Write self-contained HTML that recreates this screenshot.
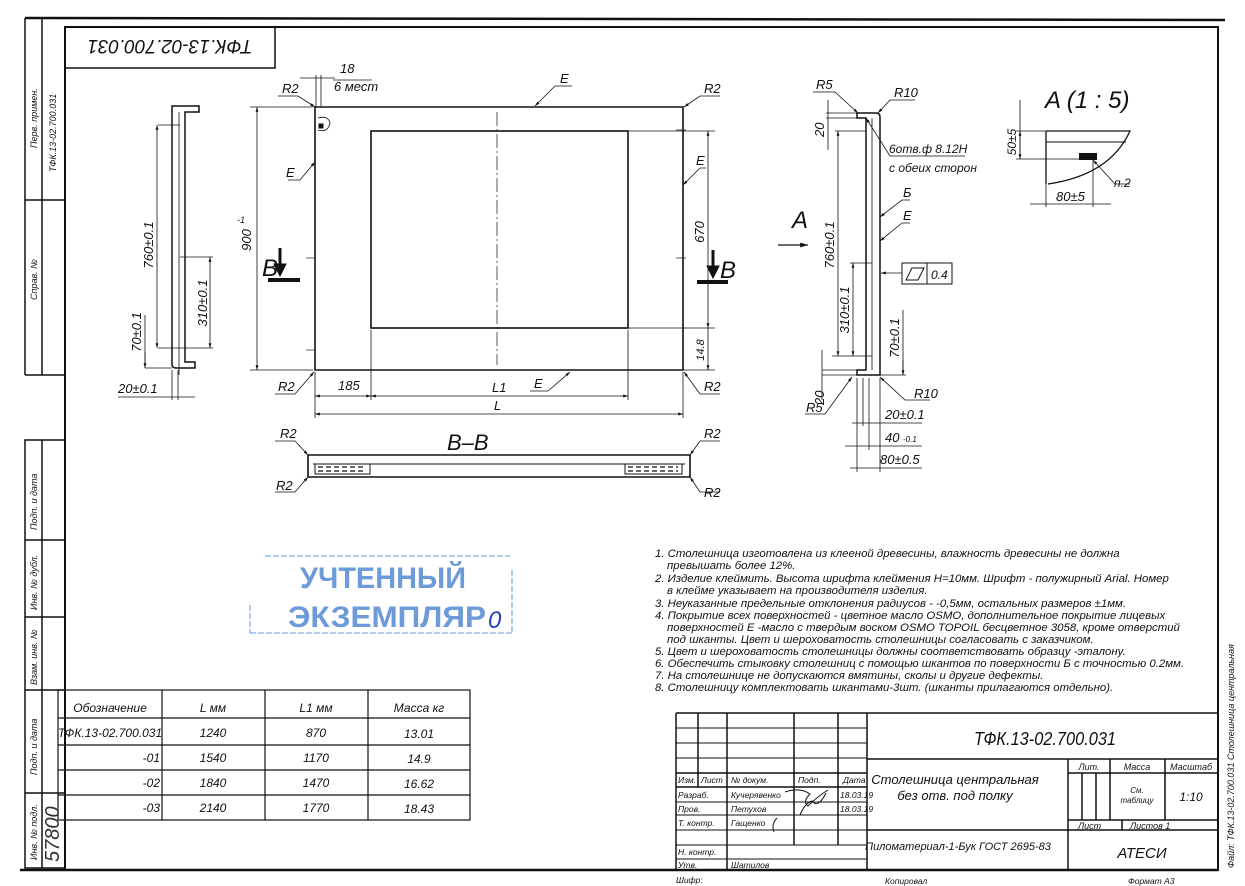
<!DOCTYPE html>
<html><head><meta charset="utf-8"><style>
html,body{margin:0;padding:0;background:#fff;}
svg{display:block;}
text{font-family:"Liberation Sans",sans-serif;font-style:italic;fill:#111;}
.n{font-style:normal;}
</style></head><body>
<svg width="1245" height="886" viewBox="0 0 1245 886" xmlns="http://www.w3.org/2000/svg">
<defs>
<marker id="a" viewBox="0 0 10 10" refX="10" refY="5" markerWidth="8" markerHeight="6" orient="auto-start-reverse"><path d="M0,2 L10,5 L0,8 z" fill="#111"/></marker>
</defs>
<g stroke="#111" fill="none">
<line x1="25" y1="18" x2="1225" y2="20" stroke-width="2.5"/>
<rect x="65" y="27" width="1153" height="843" stroke-width="2"/>
<line x1="25" y1="18" x2="25" y2="375" stroke-width="1.5"/>
<line x1="42" y1="18" x2="42" y2="375" stroke-width="1.5"/>
<line x1="25" y1="375" x2="65" y2="375" stroke-width="1.5"/>
<line x1="25" y1="200" x2="65" y2="200" stroke-width="1.5"/>
<rect x="25" y="440" width="40" height="428" stroke-width="1.5"/>
<line x1="42" y1="440" x2="42" y2="868" stroke-width="1.5"/>
<line x1="25" y1="540" x2="65" y2="540" stroke-width="1.5"/>
<line x1="25" y1="617" x2="65" y2="617" stroke-width="1.5"/>
<line x1="25" y1="690" x2="65" y2="690" stroke-width="1.5"/>
<line x1="25" y1="793" x2="65" y2="793" stroke-width="1.5"/>
<line x1="20" y1="870" x2="1218" y2="870" stroke-width="2.5"/>
<rect x="65" y="27" width="210" height="41" stroke-width="1.5"/>

<path d="M172,106 L199,106 L199,112 L185,112 L185,362 L195,362 L195,368 L176,368 Q172,368 172,364 Z" stroke-width="1.5"/>
<line x1="179" y1="112" x2="179" y2="375" stroke-width="0.8"/>
<line x1="158" y1="125" x2="180" y2="125" stroke-width="0.8"/>
<line x1="158" y1="348" x2="180" y2="348" stroke-width="0.8"/>
<line x1="145" y1="368" x2="172" y2="368" stroke-width="0.8"/>
<line x1="180" y1="257" x2="213" y2="257" stroke-width="0.8"/>
<line x1="180" y1="348" x2="213" y2="348" stroke-width="0.8"/>
<line x1="157" y1="125" x2="157" y2="348" stroke-width="0.8" marker-start="url(#a)" marker-end="url(#a)"/>
<line x1="210" y1="257" x2="210" y2="348" stroke-width="0.8" marker-start="url(#a)" marker-end="url(#a)"/>
<line x1="145" y1="315" x2="145" y2="368" stroke-width="0.8"/>
<line x1="145" y1="352" x2="145" y2="368" stroke-width="0.8" marker-end="url(#a)"/>
<line x1="118" y1="397" x2="195" y2="397" stroke-width="0.8"/>
<line x1="172" y1="370" x2="172" y2="400" stroke-width="0.8"/>
<line x1="178" y1="370" x2="178" y2="400" stroke-width="0.8"/>

<path d="M315,107 L683,107 L683,370 L315,370 Z" stroke-width="1.6"/>
<rect x="371" y="131" width="257" height="197" stroke-width="1.6"/>
<line x1="497" y1="112" x2="497" y2="365" stroke-width="0.7" stroke-dasharray="14,3,2,3"/>
<line x1="250" y1="107" x2="313" y2="107" stroke-width="0.8"/>
<line x1="250" y1="370" x2="313" y2="370" stroke-width="0.8"/>
<line x1="257" y1="107" x2="257" y2="370" stroke-width="0.8" marker-start="url(#a)" marker-end="url(#a)"/>
<line x1="628" y1="131" x2="715" y2="131" stroke-width="0.8"/>
<line x1="628" y1="328" x2="715" y2="328" stroke-width="0.8"/>
<line x1="708" y1="131" x2="708" y2="328" stroke-width="0.8" marker-start="url(#a)" marker-end="url(#a)"/>
<line x1="708" y1="328" x2="708" y2="370" stroke-width="0.8" marker-end="url(#a)"/>
<line x1="683" y1="370" x2="715" y2="370" stroke-width="0.8"/>
<line x1="315" y1="372" x2="315" y2="418" stroke-width="0.8"/>
<line x1="371" y1="330" x2="371" y2="400" stroke-width="0.8"/>
<line x1="628" y1="330" x2="628" y2="400" stroke-width="0.8"/>
<line x1="683" y1="372" x2="683" y2="418" stroke-width="0.8"/>
<line x1="315" y1="396" x2="371" y2="396" stroke-width="0.8" marker-start="url(#a)" marker-end="url(#a)"/>
<line x1="371" y1="396" x2="628" y2="396" stroke-width="0.8" marker-start="url(#a)" marker-end="url(#a)"/>
<line x1="315" y1="414" x2="683" y2="414" stroke-width="0.8" marker-start="url(#a)" marker-end="url(#a)"/>
<line x1="300" y1="78" x2="335" y2="78" stroke-width="0.8"/>
<line x1="316" y1="75" x2="316" y2="107" stroke-width="0.8"/>
<line x1="321" y1="75" x2="321" y2="107" stroke-width="0.8"/>
<line x1="333" y1="80" x2="372" y2="80" stroke-width="0.8"/>
<path d="M318,118 q10,-3 12,5 q-2,10 -12,7" stroke-width="0.8"/>
<rect x="319" y="124" width="4" height="4" fill="#111"/>
<polyline points="278,96 298,96 315,107" stroke-width="0.8" marker-end="url(#a)"/>
<polyline points="720,96 700,96 684,107" stroke-width="0.8" marker-end="url(#a)"/>
<polyline points="275,394 295,394 314,372" stroke-width="0.8" marker-end="url(#a)"/>
<polyline points="720,394 700,394 684,372" stroke-width="0.8" marker-end="url(#a)"/>
<polyline points="572,86 555,86 535,106" stroke-width="0.8" marker-end="url(#a)"/>
<polyline points="288,180 300,180 315,162" stroke-width="0.8" marker-end="url(#a)"/>
<polyline points="706,168 700,168 683,185" stroke-width="0.8" marker-end="url(#a)"/>
<polyline points="530,391 548,391 570,372" stroke-width="0.8" marker-end="url(#a)"/>
<line x1="280" y1="248" x2="280" y2="268" stroke-width="3"/>
<path d="M274,264 L286,264 L280,276 Z" fill="#111"/>
<line x1="268" y1="280" x2="300" y2="280" stroke-width="4"/>
<line x1="713" y1="250" x2="713" y2="270" stroke-width="3"/>
<path d="M707,266 L719,266 L713,278 Z" fill="#111"/>
<line x1="697" y1="282" x2="728" y2="282" stroke-width="4"/>
<line x1="306" y1="258" x2="314" y2="258" stroke-width="0.7"/>
<line x1="306" y1="350" x2="314" y2="350" stroke-width="0.7"/>
<line x1="676" y1="130" x2="686" y2="130" stroke-width="0.7"/>
<line x1="676" y1="258" x2="686" y2="258" stroke-width="0.7"/>

<line x1="308" y1="455" x2="690" y2="455" stroke-width="1.6"/>
<line x1="308" y1="477" x2="690" y2="477" stroke-width="1.6"/>
<line x1="308" y1="455" x2="308" y2="477" stroke-width="1.6"/>
<line x1="690" y1="455" x2="690" y2="477" stroke-width="1.6"/>
<line x1="313" y1="464" x2="685" y2="464" stroke-width="1"/>
<rect x="315" y="464" width="55" height="10" stroke-width="1"/>
<rect x="625" y="464" width="57" height="10" stroke-width="1"/>
<line x1="318" y1="467" x2="366" y2="467" stroke-width="1.2" stroke-dasharray="5,3"/>
<line x1="318" y1="471" x2="366" y2="471" stroke-width="1.2" stroke-dasharray="5,3"/>
<line x1="628" y1="467" x2="678" y2="467" stroke-width="1.2" stroke-dasharray="5,3"/>
<line x1="628" y1="471" x2="678" y2="471" stroke-width="1.2" stroke-dasharray="5,3"/>
<polyline points="275,441 295,441 308,455" stroke-width="0.8" marker-end="url(#a)"/>
<polyline points="720,441 700,441 690,455" stroke-width="0.8" marker-end="url(#a)"/>
<polyline points="275,492 295,492 308,477" stroke-width="0.8" marker-end="url(#a)"/>
<polyline points="720,492 700,492 690,477" stroke-width="0.8" marker-end="url(#a)"/>

<path d="M857,113 L876,113 Q880,113 880,117 L880,375 L857,375 L857,370 L866,370 L866,118 L857,118 Z" stroke-width="1.5"/>
<line x1="872" y1="118" x2="872" y2="370" stroke-width="0.8"/>
<line x1="826" y1="113" x2="857" y2="113" stroke-width="0.8"/>
<line x1="826" y1="118" x2="857" y2="118" stroke-width="0.8"/>
<line x1="835" y1="131" x2="866" y2="131" stroke-width="0.8"/>
<line x1="832" y1="356" x2="872" y2="356" stroke-width="0.8"/>
<line x1="850" y1="263" x2="872" y2="263" stroke-width="0.8"/>
<line x1="822" y1="370" x2="857" y2="370" stroke-width="0.8"/>
<line x1="822" y1="375" x2="906" y2="375" stroke-width="0.8"/>
<line x1="838" y1="131" x2="838" y2="356" stroke-width="0.8" marker-start="url(#a)" marker-end="url(#a)"/>
<line x1="853" y1="263" x2="853" y2="356" stroke-width="0.8" marker-start="url(#a)" marker-end="url(#a)"/>
<line x1="903" y1="310" x2="903" y2="375" stroke-width="0.8"/>
<line x1="903" y1="360" x2="903" y2="375" stroke-width="0.8" marker-end="url(#a)"/>
<line x1="828" y1="100" x2="828" y2="150" stroke-width="0.8"/>
<line x1="822" y1="350" x2="822" y2="400" stroke-width="0.8"/>
<line x1="857" y1="378" x2="857" y2="472" stroke-width="0.8"/>
<line x1="863" y1="378" x2="863" y2="426" stroke-width="0.8"/>
<line x1="869" y1="378" x2="869" y2="450" stroke-width="0.8"/>
<line x1="880" y1="378" x2="880" y2="472" stroke-width="0.8"/>
<line x1="852" y1="423" x2="922" y2="423" stroke-width="0.8"/>
<line x1="845" y1="446" x2="922" y2="446" stroke-width="0.8"/>
<line x1="850" y1="468" x2="922" y2="468" stroke-width="0.8"/>
<line x1="778" y1="245" x2="808" y2="245" stroke-width="1.3" marker-end="url(#a)"/>
<polyline points="813,92 835,92 858,113" stroke-width="0.8" marker-end="url(#a)"/>
<polyline points="915,100 890,100 878,113" stroke-width="0.8" marker-end="url(#a)"/>
<polyline points="965,156 890,156 866,118" stroke-width="0.8" marker-end="url(#a)"/>
<polyline points="910,200 902,200 880,217" stroke-width="0.8" marker-end="url(#a)"/>
<polyline points="910,223 902,223 880,241" stroke-width="0.8" marker-end="url(#a)"/>
<polyline points="902,273 881,273" stroke-width="0.8" marker-end="url(#a)"/>
<polyline points="930,400 905,400 880,377" stroke-width="0.8" marker-end="url(#a)"/>
<polyline points="805,414 825,414 852,377" stroke-width="0.8" marker-end="url(#a)"/>
<rect x="902" y="263" width="50" height="21" stroke-width="1"/>
<line x1="927" y1="263" x2="927" y2="284" stroke-width="1"/>
<path d="M906,280 L912,268 L924,268 L918,280 Z" stroke-width="1"/>

<path d="M1046,131 L1130,131 Q1110,175 1048,184" stroke-width="1.3"/>
<line x1="1046" y1="131" x2="1046" y2="184" stroke-width="1.3"/>
<line x1="1046" y1="142" x2="1126" y2="142" stroke-width="1"/>
<line x1="1016" y1="131" x2="1046" y2="131" stroke-width="0.8"/>
<line x1="1016" y1="159" x2="1080" y2="159" stroke-width="0.8"/>
<line x1="1020" y1="100" x2="1020" y2="159" stroke-width="0.8"/>
<line x1="1020" y1="131" x2="1020" y2="159" stroke-width="0.8" marker-start="url(#a)" marker-end="url(#a)"/>
<line x1="1093" y1="160" x2="1093" y2="207" stroke-width="0.8"/>
<line x1="1046" y1="184" x2="1046" y2="207" stroke-width="0.8"/>
<line x1="1030" y1="204" x2="1111" y2="204" stroke-width="0.8"/>
<polyline points="1130,184 1115,184 1093,160" stroke-width="0.8" marker-end="url(#a)"/>

<g stroke="#6d9ad8" stroke-width="1" stroke-dasharray="6,2">
<line x1="265" y1="556" x2="510" y2="556"/>
<line x1="250" y1="633" x2="512" y2="633"/>
<line x1="250" y1="605" x2="250" y2="633"/>
<line x1="512" y1="570" x2="512" y2="633"/>
</g>

<g stroke-width="1.2">
<rect x="58" y="690" width="412" height="130"/>
<line x1="58" y1="718" x2="470" y2="718"/>
<line x1="58" y1="745" x2="470" y2="745"/>
<line x1="58" y1="770" x2="470" y2="770"/>
<line x1="58" y1="795" x2="470" y2="795"/>
<line x1="162" y1="690" x2="162" y2="820"/>
<line x1="265" y1="690" x2="265" y2="820"/>
<line x1="368" y1="690" x2="368" y2="820"/>
</g>

<g stroke-width="1.5">
<line x1="676" y1="713" x2="1218" y2="713"/>
<line x1="676" y1="713" x2="676" y2="870"/>
<line x1="867" y1="713" x2="867" y2="870"/>
<line x1="867" y1="759" x2="1218" y2="759"/>
<line x1="867" y1="830" x2="1218" y2="830"/>
<line x1="1068" y1="759" x2="1068" y2="870"/>
<line x1="1068" y1="773" x2="1218" y2="773"/>
<line x1="1068" y1="820" x2="1218" y2="820"/>
<line x1="1110" y1="759" x2="1110" y2="820"/>
<line x1="1165" y1="759" x2="1165" y2="820"/>
<line x1="1122" y1="820" x2="1122" y2="830"/>
<line x1="1082" y1="773" x2="1082" y2="820"/>
<line x1="1096" y1="773" x2="1096" y2="820"/>
<line x1="727" y1="713" x2="727" y2="870"/>
<line x1="794" y1="713" x2="794" y2="845"/>
<line x1="838" y1="713" x2="838" y2="845"/>
<line x1="698" y1="713" x2="698" y2="787"/>
</g>
<g stroke-width="1">
<line x1="676" y1="728" x2="867" y2="728"/>
<line x1="676" y1="743" x2="867" y2="743"/>
<line x1="676" y1="758" x2="867" y2="758"/>
<line x1="676" y1="773" x2="867" y2="773" stroke-width="1.5"/>
<line x1="676" y1="787" x2="867" y2="787" stroke-width="1.5"/>
<line x1="676" y1="802" x2="867" y2="802"/>
<line x1="676" y1="815" x2="867" y2="815"/>
<line x1="676" y1="830" x2="867" y2="830"/>
<line x1="676" y1="845" x2="867" y2="845"/>
<line x1="676" y1="859" x2="867" y2="859"/>
</g>
<path d="M785,792 q15,-5 25,2 q-8,8 -2,12 q10,-10 20,-16 M800,815 q5,-12 12,-14 q6,8 14,-8 M777,818 q-6,6 -3,14" stroke-width="1"/>
</g>

<g fill="#111">
<text transform="translate(37,148) rotate(-90)" font-size="9">Перв. примен.</text>
<text transform="translate(56,172) rotate(-90)" font-size="9">ТФК.13-02.700.031</text>
<text transform="translate(37,300) rotate(-90)" font-size="9">Справ. №</text>
<text transform="translate(37,530) rotate(-90)" font-size="9">Подп. и дата</text>
<text transform="translate(37,610) rotate(-90)" font-size="9">Инв. № дубл.</text>
<text transform="translate(37,685) rotate(-90)" font-size="9">Взам. инв. №</text>
<text transform="translate(37,775) rotate(-90)" font-size="9">Подп. и дата</text>
<text transform="translate(37,860) rotate(-90)" font-size="9">Инв. № подл.</text>
<text transform="translate(59,862) rotate(-90)" font-size="20" style="fill:#333">57800</text>
<text transform="translate(170,40) rotate(180)" font-size="19" text-anchor="middle">ТФК.13-02.700.031</text>

<text transform="translate(153,245) rotate(-90)" font-size="13" text-anchor="middle">760±0.1</text>
<text transform="translate(207,303) rotate(-90)" font-size="13" text-anchor="middle">310±0.1</text>
<text transform="translate(141,332) rotate(-90)" font-size="13" text-anchor="middle">70±0.1</text>
<text x="118" y="393" font-size="13">20±0.1</text>

<text transform="translate(251,240) rotate(-90)" font-size="13" text-anchor="middle">900</text>
<text x="237" y="223" font-size="9">-1</text>
<text x="262" y="276" font-size="24">B</text>
<text x="720" y="278" font-size="24">B</text>
<text transform="translate(704,232) rotate(-90)" font-size="13" text-anchor="middle">670</text>
<text transform="translate(704,350) rotate(-90)" font-size="11" text-anchor="middle">14.8</text>
<text x="338" y="390" font-size="13">185</text>
<text x="492" y="392" font-size="13">L1</text>
<text x="494" y="410" font-size="13">L</text>
<text x="340" y="73" font-size="13">18</text>
<text x="334" y="91" font-size="13">6 мест</text>
<text x="282" y="93" font-size="13">R2</text>
<text x="704" y="93" font-size="13">R2</text>
<text x="278" y="391" font-size="13">R2</text>
<text x="704" y="391" font-size="13">R2</text>
<text x="560" y="83" font-size="13">E</text>
<text x="286" y="177" font-size="13">E</text>
<text x="696" y="165" font-size="13">E</text>
<text x="534" y="388" font-size="13">E</text>
<text x="447" y="450" font-size="22">B–B</text>
<text x="280" y="438" font-size="13">R2</text>
<text x="704" y="438" font-size="13">R2</text>
<text x="276" y="490" font-size="13">R2</text>
<text x="704" y="497" font-size="13">R2</text>

<text x="792" y="228" font-size="24">A</text>
<text x="816" y="89" font-size="13">R5</text>
<text x="894" y="97" font-size="13">R10</text>
<text transform="translate(824,137) rotate(-90)" font-size="13">20</text>
<text x="889" y="153" font-size="12">6отв.ф 8.12H</text>
<text x="889" y="172" font-size="12">с обеих сторон</text>
<text x="903" y="197" font-size="13">Б</text>
<text x="903" y="220" font-size="13">E</text>
<text x="931" y="279" font-size="12">0.4</text>
<text transform="translate(834,245) rotate(-90)" font-size="13" text-anchor="middle">760±0.1</text>
<text transform="translate(849,310) rotate(-90)" font-size="13" text-anchor="middle">310±0.1</text>
<text transform="translate(899,338) rotate(-90)" font-size="13" text-anchor="middle">70±0.1</text>
<text transform="translate(824,405) rotate(-90)" font-size="13">20</text>
<text x="914" y="398" font-size="13">R10</text>
<text x="806" y="412" font-size="13">R5</text>
<text x="885" y="419" font-size="13">20±0.1</text>
<text x="885" y="442" font-size="13">40</text>
<text x="903" y="442" font-size="8">-0.1</text>
<text x="880" y="464" font-size="13">80±0.5</text>

<text x="1045" y="108" font-size="24">A  (1 : 5)</text>
<text transform="translate(1016,142) rotate(-90)" font-size="12" text-anchor="middle">50±5</text>
<rect x="1079" y="153" width="18" height="7"/>
<text x="1114" y="187" font-size="12">п.2</text>
<text x="1056" y="201" font-size="13">80±5</text>

<text x="300" y="588" font-size="30" class="n" style="fill:#6d9ad8;font-weight:bold" textLength="166" lengthAdjust="spacingAndGlyphs">УЧТЕННЫЙ</text>
<text x="288" y="627" font-size="30" class="n" style="fill:#6d9ad8;font-weight:bold" textLength="198" lengthAdjust="spacingAndGlyphs">ЭКЗЕМПЛЯР</text>
<text x="488" y="628" font-size="24" style="fill:#2440c0">0</text>

<g font-size="11.4">
<text x="655" y="557">1. Столешница изготовлена из клееной древесины, влажность древесины не должна</text>
<text x="667" y="569">превышать более 12%.</text>
<text x="655" y="582">2. Изделие клеймить. Высота шрифта клеймения Н=10мм. Шрифт - полужирный Arial. Номер</text>
<text x="667" y="594">в клейме указывает на производителя изделия.</text>
<text x="655" y="607">3. Неуказанные предельные отклонения радиусов - -0,5мм, остальных размеров ±1мм.</text>
<text x="655" y="619">4. Покрытие всех поверхностей - цветное масло OSMO, дополнительное покрытие лицевых</text>
<text x="667" y="631">поверхностей Е -масло с твердым воском OSMO TOPOIL бесцветное 3058, кроме отверстий</text>
<text x="667" y="643">под шканты. Цвет и шероховатость столешницы согласовать с заказчиком.</text>
<text x="655" y="655">5. Цвет и шероховатость столешницы должны соответствовать образцу -эталону.</text>
<text x="655" y="667">6. Обеспечить стыковку столешниц с помощью шкантов по поверхности Б с точностью 0.2мм.</text>
<text x="655" y="679">7. На столешнице не допускаются вмятины, сколы и другие дефекты.</text>
<text x="655" y="691">8. Столешницу комплектовать шкантами-3шт. (шканты прилагаются отдельно).</text>
</g>

<g font-size="12" text-anchor="middle">
<text x="110" y="712">Обозначение</text>
<text x="213" y="712">L мм</text>
<text x="316" y="712">L1 мм</text>
<text x="419" y="712">Масса кг</text>
<text x="110" y="737">ТФК.13-02.700.031</text>
<text x="213" y="737">1240</text><text x="316" y="737">870</text><text x="419" y="738">13.01</text>
<text x="213" y="762">1540</text><text x="316" y="762">1170</text><text x="419" y="763">14.9</text>
<text x="213" y="787">1840</text><text x="316" y="787">1470</text><text x="419" y="788">16.62</text>
<text x="213" y="812">2140</text><text x="316" y="812">1770</text><text x="419" y="813">18.43</text>
</g>
<g font-size="12" text-anchor="end">
<text x="160" y="762">-01</text><text x="160" y="787">-02</text><text x="160" y="812">-03</text>
</g>

<text x="1045" y="745" font-size="18" text-anchor="middle" textLength="142" lengthAdjust="spacingAndGlyphs">ТФК.13-02.700.031</text>
<text x="955" y="784" font-size="13" text-anchor="middle">Столешница центральная</text>
<text x="955" y="800" font-size="13" text-anchor="middle">без отв. под полку</text>
<text x="958" y="850" font-size="11" text-anchor="middle">Пиломатериал-1-Бук ГОСТ 2695-83</text>
<text x="1142" y="858" font-size="15" text-anchor="middle">АТЕСИ</text>
<text x="1089" y="770" font-size="9" text-anchor="middle">Лит.</text>
<text x="1137" y="770" font-size="9" text-anchor="middle">Масса</text>
<text x="1191" y="770" font-size="9" text-anchor="middle">Масштаб</text>
<text x="1137" y="793" font-size="8" text-anchor="middle">См.</text>
<text x="1137" y="803" font-size="8" text-anchor="middle">таблицу</text>
<text x="1191" y="801" font-size="12" text-anchor="middle">1:10</text>
<text x="1078" y="829" font-size="9">Лист</text>
<text x="1130" y="829" font-size="9">Листов 1</text>
<g font-size="8.5">
<text x="678" y="783">Изм.</text><text x="701" y="783">Лист</text><text x="731" y="783">№ докум.</text><text x="798" y="783">Подп.</text><text x="843" y="783">Дата</text>
<text x="678" y="798">Разраб.</text><text x="731" y="798">Кучерявенко</text>
<text x="678" y="812">Пров.</text><text x="731" y="812">Петухов</text>
<text x="678" y="826">Т. контр.</text><text x="731" y="826">Гащенко</text>
<text x="678" y="855">Н. контр.</text>
<text x="678" y="868">Утв.</text><text x="731" y="868">Шатилов</text>
<text x="840" y="798">18.03.19</text><text x="840" y="812">18.03.19</text>
<text x="676" y="883">Шифр:</text>
<text x="885" y="884">Копировал</text>
<text x="1128" y="884">Формат A3</text>
</g>
<text transform="translate(1234,868) rotate(-90)" font-size="9">Файл: ТФК.13-02.700.031 Столешница центральная</text>
</g>
</svg>
</body></html>
